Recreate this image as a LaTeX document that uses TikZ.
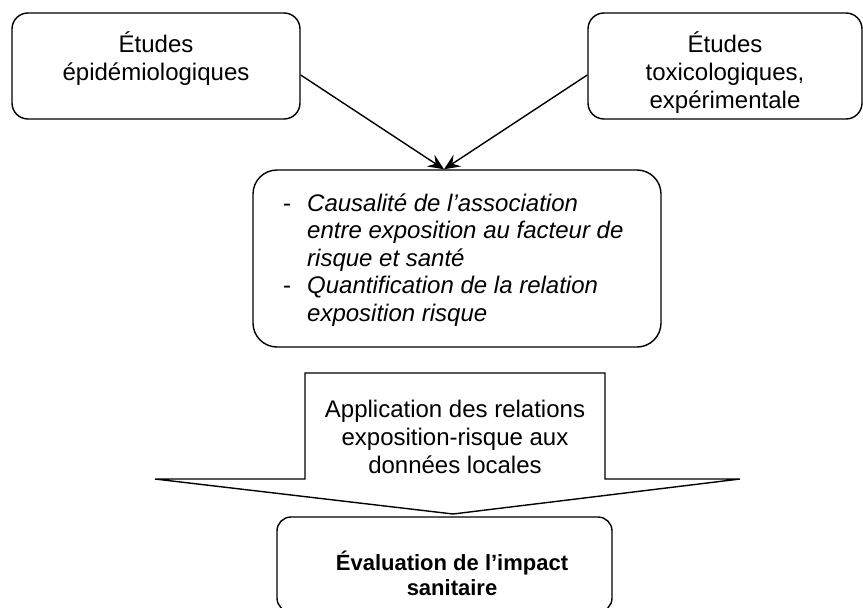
\documentclass[tikz,border=0pt]{standalone}
\usepackage{fontspec}
\setmainfont{Liberation Sans}
\usetikzlibrary{arrows.meta,positioning}

\begin{document}
\begin{tikzpicture}[x=1pt, y=-1pt,
      every node/.style = {inner sep=0pt, font=\fontsize{24}{28}\selectfont},
      cadre/.style = {draw, line width=1.4pt, rounded corners=#1},
      cadre/.default = 16pt,
      texte/.style = {align=center, anchor=base},
      fleche/.style = {-{Stealth[length=16pt, width=14pt, inset=6pt]}, line width=1.4pt}]
  \useasboundingbox (0,0) rectangle (863,608);
  % cadres du haut
  \node[cadre, minimum width=288pt, minimum height=106pt] (epidemio) at (156,66) {};
  \node[texte] (epidemio-txt) at (156,80) {Études\\épidémiologiques};
  \node[cadre, minimum width=274pt, minimum height=106pt] (toxico) at (725,66) {};
  \node[texte] (toxico-txt) at (725,108) {Études\\toxicologiques,\\expérimentale};
  % cadre central
  \node[cadre=24pt, minimum width=408pt, minimum height=177pt] (causalite) at (457,258.5) {};
  \node[anchor=base west, font=\fontsize{24}{27.6}\selectfont] (causalite-txt) at (283,211)
    {\begin{tabular}[t]{@{}p{24pt}@{}l@{}}
      - & \itshape Causalité de l’association\\
        & \itshape entre exposition au facteur de\\
        & \itshape risque et santé\\
      - & \itshape Quantification de la relation\\
        & \itshape exposition risque
     \end{tabular}};
  \coordinate (jonction) at ([xshift=-13pt]causalite.north);
  \draw[fleche] ([yshift=-9pt]epidemio.east) -- (jonction);
  \draw[fleche] ([yshift=-9pt]toxico.west) -- (jonction);
  % grosse fleche
  \draw[line width=1.4pt] (305,373) -- (605,373) -- (605,479) -- (740,479)
    -- (453,514) -- (155,479) -- (305,479) -- cycle;
  \node[texte] (application) at (455,473)
    {Application des relations\\exposition-risque aux\\données locales};
  % cadre du bas
  \node[cadre=14pt, minimum width=335pt, minimum height=95pt] (evaluation) at (444.5,564.5) {};
  \node[texte, font=\bfseries\fontsize{22}{25}\selectfont] (evaluation-txt) at (452,595)
    {Évaluation de l’impact\\sanitaire};
\end{tikzpicture}
\end{document}
